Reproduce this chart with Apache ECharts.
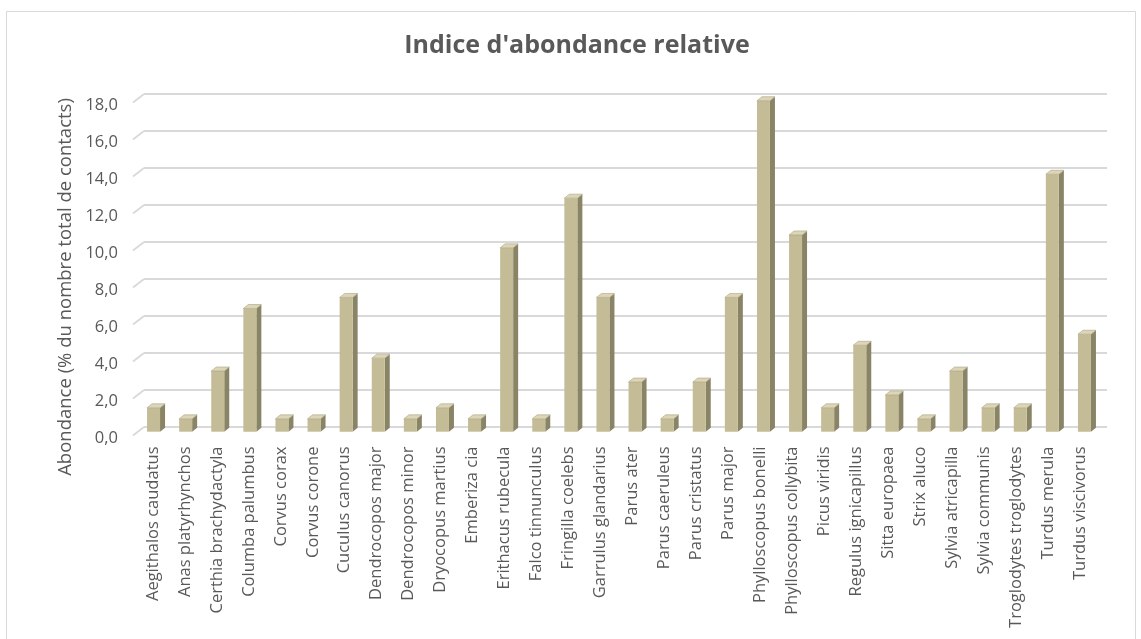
<!DOCTYPE html>
<html>
<head>
<meta charset="utf-8">
<script src="https://cdn.jsdelivr.net/npm/echarts@6/dist/echarts.min.js"></script>
<style>
  html, body { margin: 0; padding: 0; background: #ffffff; }
  #chart { width: 1141px; height: 639px; }
</style>
</head>
<body>
<div id="chart"></div>
<script>
// Species observed and their relative abundance (% of all contacts)
const categories = [
  'Aegithalos caudatus', 'Anas platyrhynchos', 'Certhia brachydactyla', 'Columba palumbus',
  'Corvus corax', 'Corvus corone', 'Cuculus canorus', 'Dendrocopos major', 'Dendrocopos minor',
  'Dryocopus martius', 'Emberiza cia', 'Erithacus rubecula', 'Falco tinnunculus',
  'Fringilla coelebs', 'Garrulus glandarius', 'Parus ater', 'Parus caeruleus', 'Parus cristatus',
  'Parus major', 'Phylloscopus bonelli', 'Phylloscopus collybita', 'Picus viridis',
  'Regulus ignicapillus', 'Sitta europaea', 'Strix aluco', 'Sylvia atricapilla',
  'Sylvia communis', 'Troglodytes troglodytes', 'Turdus merula', 'Turdus viscivorus'
];
const abundance = [
  1.3, 0.7, 3.3, 6.7, 0.7, 0.7, 7.3, 4.0, 0.7, 1.3, 0.7, 10.0, 0.7, 12.7, 7.3,
  2.7, 0.7, 2.7, 7.3, 18.0, 10.7, 1.3, 4.7, 2.0, 0.7, 3.3, 1.3, 1.3, 14.0, 5.3
];
const yTicks = [0, 2, 4, 6, 8, 10, 12, 14, 16, 18];

const titleText = "Indice d'abondance relative";
const yAxisTitle = 'Abondance (% du nombre total de contacts)';

const yMin = yTicks[0];
const yMax = yTicks[yTicks.length - 1];
const yStep = yTicks[1] - yTicks[0];

const textColor = '#595959';
const gridColor = '#d9d9d9';
const faceColor = '#c4bc96';
const sideColor = '#8a8466';
const topColor = '#dcd5b6';
const font = '"Open Sans", "Noto Sans", sans-serif';

const chart = echarts.init(document.getElementById('chart'), null, { renderer: 'canvas' });

// 3D column: front face, darker right side, lighter top
function renderColumn(params, api) {
  const idx = api.value(0);
  const top = api.coord([idx, api.value(1)]);
  const base = api.coord([idx, 0]);
  const c = top[0];
  const x0 = c - 8, x1 = c + 5, dx = 5, dy = -4;
  return {
    type: 'group',
    children: [
      { type: 'polygon',
        shape: { points: [[x1, top[1]], [x1 + dx, top[1] + dy], [x1 + dx, base[1] + dy], [x1, base[1]]] },
        style: { fill: sideColor } },
      { type: 'rect',
        shape: { x: x0, y: top[1], width: x1 - x0, height: base[1] - top[1] },
        style: { fill: faceColor } },
      { type: 'polygon',
        shape: { points: [[x0, top[1]], [x1, top[1]], [x1 + dx, top[1] + dy], [x0 + dx, top[1] + dy]] },
        style: { fill: topColor, stroke: '#a9a283', lineWidth: 0.6 } }
    ]
  };
}

// Floor-to-wall slant of each gridline at the left edge
function renderGridSlant(params, api) {
  const y = api.coord([0, api.value(1)])[1];
  const x = params.coordSys.x;
  return {
    type: 'line',
    shape: { x1: x - 11, y1: y + 8.5, x2: x, y2: y },
    style: { stroke: gridColor, lineWidth: 1.8 }
  };
}

const option = {
  backgroundColor: '#ffffff',
  animation: false,
  grid: [
    // front plane: tick labels and category labels
    { left: 137, right: 45, top: 105.5, bottom: 200.5 },
    // back wall: gridlines
    { left: 144, right: 34, top: 94, bottom: 212 },
    // columns
    { left: 139, right: 39, top: 100.7, bottom: 207.3 }
  ],
  xAxis: [
    { type: 'category', gridIndex: 0, data: categories,
      axisLine: { show: false }, axisTick: { show: false },
      axisLabel: { rotate: 90, interval: 0, margin: 8, color: textColor,
        fontFamily: font, fontSize: 16.5 } },
    { type: 'category', gridIndex: 1, data: categories, show: false },
    { type: 'category', gridIndex: 2, data: categories, show: false }
  ],
  yAxis: [
    { type: 'value', gridIndex: 0, min: yMin, max: yMax, interval: yStep,
      axisLine: { show: false }, axisTick: { show: false }, splitLine: { show: false },
      axisLabel: { margin: 19, color: textColor, fontFamily: font, fontSize: 16.5,
        formatter: v => v.toFixed(1).replace('.', ',') } },
    { type: 'value', gridIndex: 1, min: yMin, max: yMax, interval: yStep,
      axisLine: { show: false }, axisTick: { show: false }, axisLabel: { show: false },
      splitLine: { show: true, lineStyle: { color: gridColor, width: 1.8 } } },
    { type: 'value', gridIndex: 2, min: yMin, max: yMax, interval: yStep, show: false,
      splitLine: { show: false } }
  ],
  graphic: [
    { type: 'rect', silent: true, z: -10,
      shape: { x: 6.5, y: 11.5, width: 1129, height: 640 },
      style: { fill: 'none', stroke: gridColor, lineWidth: 1 } },
    { type: 'text', x: 577, y: 46,
      style: { text: titleText, font: 'bold 25px ' + font, fill: textColor,
        textAlign: 'center', textVerticalAlign: 'middle' } },
    { type: 'text', x: 66, y: 287, rotation: Math.PI / 2,
      style: { text: yAxisTitle, font: '18.5px ' + font, fill: textColor,
        textAlign: 'center', textVerticalAlign: 'middle' } }
  ],
  series: [
    { type: 'custom', xAxisIndex: 1, yAxisIndex: 1, silent: true,
      renderItem: renderGridSlant,
      data: yTicks.map(v => [0, v]), z: 1 },
    { type: 'custom', xAxisIndex: 2, yAxisIndex: 2, silent: true,
      renderItem: renderColumn,
      data: abundance.map((v, i) => [i, v]), z: 5 }
  ]
};

chart.setOption(option);
</script>
</body>
</html>
